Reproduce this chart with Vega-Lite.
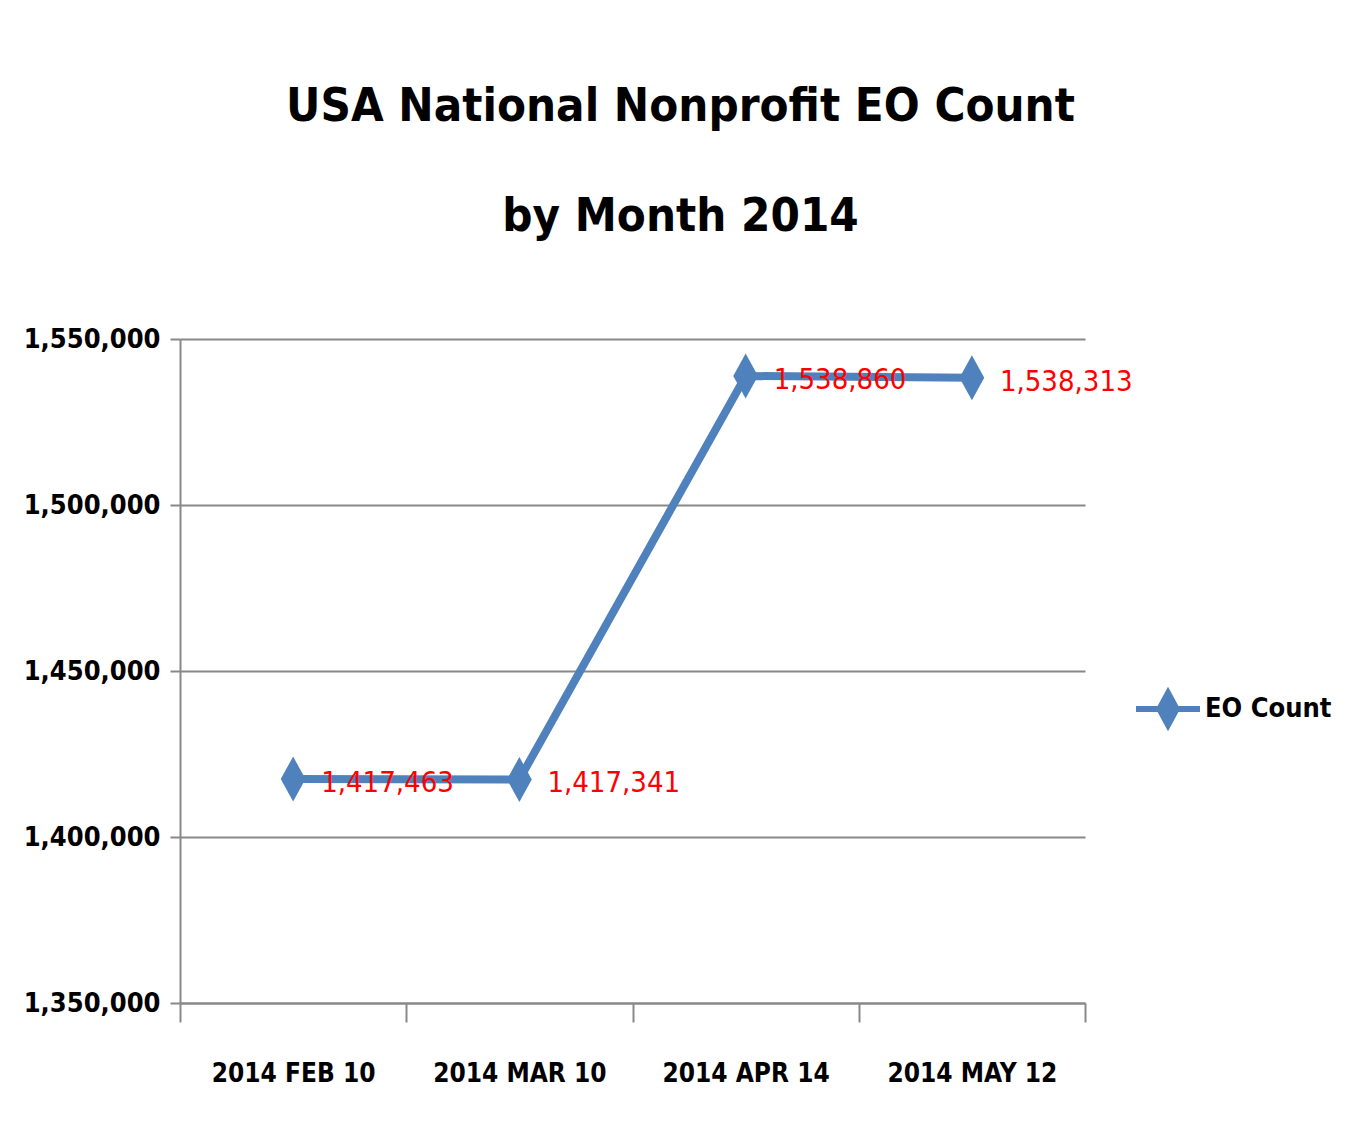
{
  "$schema": "https://vega.github.io/schema/vega-lite/v6.json",
  "width": 905,
  "height": 664,
  "autosize": "none",
  "padding": {"left": 180, "top": 339, "right": 269, "bottom": 132},
  "background": "white",
  "config": {"view": {"stroke": null}},
  "title": {
    "text": ["USA National Nonprofit EO Count", "by Month 2014"],
    "anchor": "middle",
    "dx": 48,
    "offset": 84,
    "fontSize": 47,
    "lineHeight": 110,
    "font": "DejaVu Sans Condensed",
    "fontWeight": "bold",
    "color": "black"
  },
  "data": {
    "values": [
      {"date": "2014 FEB 10", "count": 1417463, "series": "EO Count"},
      {"date": "2014 MAR 10", "count": 1417341, "series": "EO Count"},
      {"date": "2014 APR 14", "count": 1538860, "series": "EO Count"},
      {"date": "2014 MAY 12", "count": 1538313, "series": "EO Count"}
    ]
  },
  "encoding": {
    "x": {
      "field": "date",
      "type": "nominal",
      "sort": null,
      "scale": {"paddingInner": 0, "paddingOuter": 0},
      "axis": {
        "title": null,
        "labelAngle": 0,
        "labelFont": "DejaVu Sans Condensed",
        "labelFontWeight": "bold",
        "labelFontSize": 26,
        "labelLimit": 0,
        "labelColor": "black",
        "labelPadding": 38,
        "tickBand": "extent",
        "tickSize": 19,
        "tickColor": "#888888",
        "tickWidth": 2,
        "domainColor": "#888888",
        "domainWidth": 2,
        "grid": false
      }
    },
    "y": {
      "field": "count",
      "type": "quantitative",
      "scale": {"domain": [1350000, 1550000], "nice": false, "zero": false},
      "axis": {
        "title": null,
        "values": [1350000, 1400000, 1450000, 1500000, 1550000],
        "format": ",d",
        "labelFont": "DejaVu Sans Condensed",
        "labelFontWeight": "bold",
        "labelFontSize": 27,
        "labelLimit": 0,
        "labelColor": "black",
        "labelPadding": 10,
        "tickSize": 10,
        "tickColor": "#888888",
        "tickWidth": 2,
        "domainColor": "#888888",
        "domainWidth": 2,
        "grid": true,
        "gridColor": "#888888",
        "gridWidth": 2
      }
    }
  },
  "layer": [
    {
      "mark": {
        "type": "line",
        "strokeWidth": 8,
        "color": "#4F81BD",
        "point": {
          "shape": "M0,-1L0.55,0L0,1L-0.55,0Z",
          "size": 2025,
          "filled": true,
          "color": "#4F81BD",
          "opacity": 1
        }
      },
      "encoding": {
        "color": {
          "field": "series",
          "type": "nominal",
          "scale": {"range": ["#4F81BD"]},
          "legend": {
            "title": null,
            "orient": "none",
            "legendX": 953,
            "legendY": 335,
            "symbolType": "M-1,0L1,0M0,-0.5L0.27,0L0,0.5L-0.27,0Z",
            "symbolSize": 4096,
            "symbolStrokeWidth": 6,
            "symbolStrokeColor": "#4F81BD",
            "symbolFillColor": "#4F81BD",
            "labelFont": "DejaVu Sans Condensed",
            "labelFontWeight": "bold",
            "labelFontSize": 27,
            "labelLimit": 0,
            "labelColor": "black",
            "labelOffset": 2
          }
        }
      }
    },
    {
      "mark": {
        "type": "text",
        "align": "left",
        "baseline": "middle",
        "dx": 28,
        "dy": 4,
        "fontSize": 29,
        "font": "DejaVu Sans Condensed",
        "color": "#FF0000"
      },
      "encoding": {
        "text": {"field": "count", "type": "quantitative", "format": ",d"}
      }
    }
  ]
}
